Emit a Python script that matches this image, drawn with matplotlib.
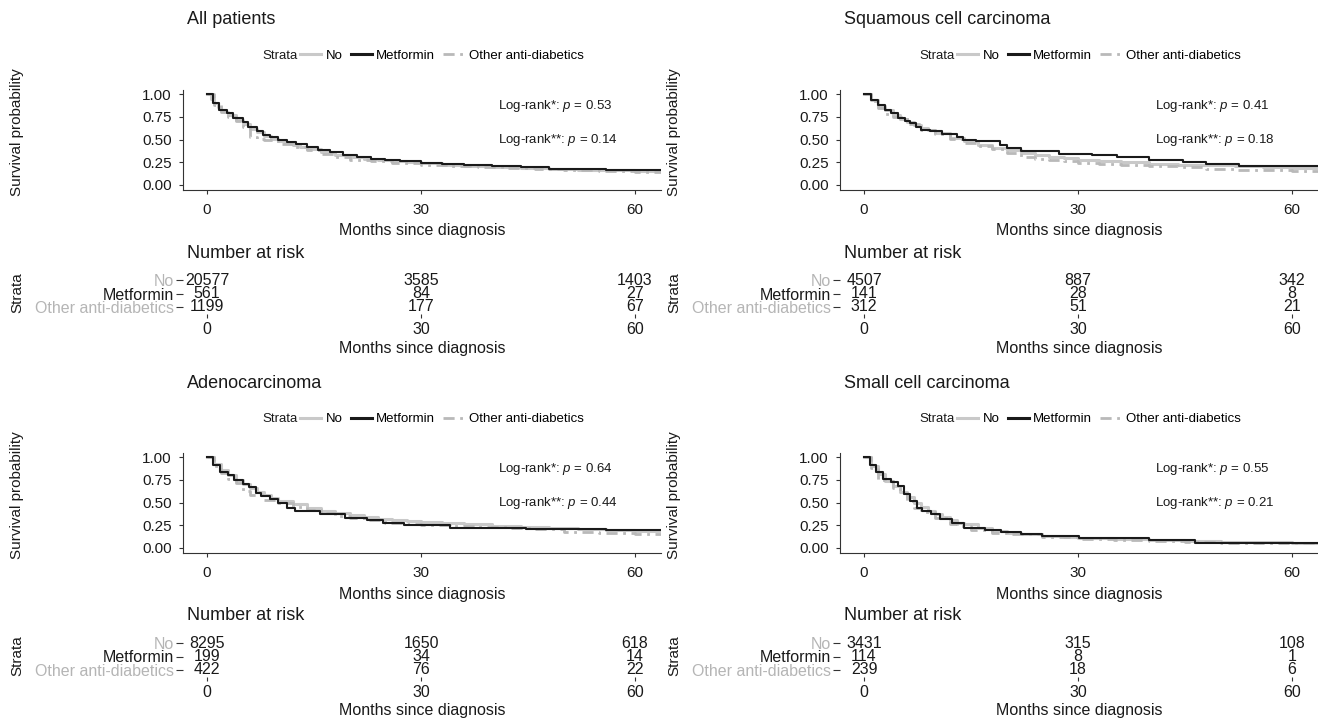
import matplotlib
matplotlib.use('Agg')
import matplotlib.pyplot as plt
from matplotlib.lines import Line2D

plt.rcParams['font.family'] = ['Liberation Sans', 'DejaVu Sans']
plt.rcParams['mathtext.fontset'] = 'custom'
plt.rcParams['mathtext.it'] = 'Liberation Sans:italic'
plt.rcParams['mathtext.rm'] = 'Liberation Sans'

# ---------------- data ----------------
strata = ['No', 'Metformin', 'Other anti-diabetics']
risk_times = [0, 30, 60]
titles = ['All patients', 'Squamous cell carcinoma', 'Adenocarcinoma', 'Small cell carcinoma']
p_star = ['0.53', '0.41', '0.64', '0.55']
p_star2 = ['0.14', '0.18', '0.44', '0.21']

# All patients
all_no_t = [0, 0.5, 1, 1.5, 2, 2.5, 3, 4, 5, 6, 7, 8, 9, 10, 11, 12, 13, 14, 16, 18, 20, 22, 24, 26, 28, 30, 33, 36, 40, 44, 48, 52, 56, 60, 64]
all_no_s = [1.0, 0.95, 0.90, 0.86, 0.83, 0.80, 0.77, 0.72, 0.67, 0.62, 0.58, 0.54, 0.51, 0.48, 0.46, 0.44, 0.42, 0.40, 0.36, 0.33, 0.31, 0.29, 0.27, 0.26, 0.25, 0.24, 0.225, 0.21, 0.20, 0.19, 0.18, 0.17, 0.165, 0.155, 0.15]
all_met_t = [0, 0.9, 1.7, 2.8, 3.6, 5.0, 5.8, 7.0, 7.8, 8.8, 10, 11.2, 12.5, 14, 15.5, 17.3, 19, 21, 23, 25, 27, 30, 33, 36, 40, 44, 48, 52, 56, 60, 64]
all_met_s = [1.0, 0.90, 0.82, 0.79, 0.74, 0.69, 0.64, 0.59, 0.55, 0.53, 0.50, 0.47, 0.45, 0.42, 0.39, 0.36, 0.33, 0.31, 0.29, 0.27, 0.26, 0.245, 0.235, 0.225, 0.21, 0.20, 0.18, 0.175, 0.165, 0.16, 0.16]
all_oth_t = [0, 1, 2, 3, 4, 5, 6, 7, 8, 10, 12, 14, 16, 18, 20, 23, 26, 30, 34, 38, 42, 46, 50, 55, 60, 64]
all_oth_s = [1.0, 0.88, 0.80, 0.75, 0.70, 0.64, 0.53, 0.51, 0.49, 0.45, 0.42, 0.38, 0.34, 0.31, 0.28, 0.26, 0.24, 0.22, 0.21, 0.20, 0.19, 0.175, 0.165, 0.15, 0.145, 0.14]
all_risk = [[20577, 3585, 1403], [561, 84, 27], [1199, 177, 67]]

# Squamous cell carcinoma
sq_no_t = [0, 1, 2, 3, 4, 5, 6, 7, 8, 9, 10, 12, 14, 16, 18, 20, 22, 24, 26, 28, 30, 33, 36, 40, 44, 48, 52, 56, 60, 64]
sq_no_s = [1.0, 0.93, 0.87, 0.82, 0.77, 0.73, 0.69, 0.66, 0.63, 0.60, 0.57, 0.52, 0.48, 0.44, 0.41, 0.38, 0.35, 0.33, 0.31, 0.30, 0.28, 0.265, 0.25, 0.235, 0.225, 0.215, 0.205, 0.20, 0.19, 0.185]
sq_met_t = [0, 1.0, 2.0, 2.9, 3.8, 4.8, 5.7, 6.4, 7.3, 8.0, 9.2, 11, 13, 13.9, 15.7, 19, 20, 22, 27.3, 32, 35.4, 40, 44.7, 48, 52.5, 64]
sq_met_s = [1.0, 0.93, 0.88, 0.82, 0.79, 0.74, 0.70, 0.68, 0.64, 0.60, 0.59, 0.56, 0.53, 0.50, 0.48, 0.44, 0.41, 0.37, 0.345, 0.33, 0.31, 0.28, 0.255, 0.235, 0.21, 0.21]
sq_oth_t = [0, 1, 2, 3, 4, 6, 8, 10, 12, 14, 16, 18, 20, 22, 24, 26, 28, 30, 33, 36, 40, 44, 48, 52, 56, 60, 64]
sq_oth_s = [1.0, 0.92, 0.85, 0.78, 0.75, 0.67, 0.61, 0.56, 0.51, 0.46, 0.43, 0.40, 0.35, 0.31, 0.29, 0.27, 0.26, 0.24, 0.23, 0.22, 0.21, 0.20, 0.18, 0.17, 0.16, 0.155, 0.15]
sq_risk = [[4507, 887, 342], [141, 28, 8], [312, 51, 21]]

# Adenocarcinoma
ad_no_t = [0, 1, 2, 3, 4, 5, 6, 7, 8, 9, 10, 12, 14, 16, 18, 20, 22, 24, 26, 28, 30, 33, 36, 40, 44, 48, 52, 56, 60, 64]
ad_no_s = [1.0, 0.92, 0.86, 0.80, 0.75, 0.70, 0.66, 0.62, 0.58, 0.55, 0.52, 0.48, 0.44, 0.41, 0.38, 0.36, 0.34, 0.32, 0.31, 0.30, 0.29, 0.27, 0.26, 0.24, 0.23, 0.22, 0.21, 0.20, 0.19, 0.185]
ad_met_t = [0, 0.9, 1.8, 2.9, 3.8, 5, 5.9, 6.8, 7.6, 8.8, 10, 11.2, 12.4, 15.9, 19.4, 22.4, 24.7, 27.6, 34, 44.7, 55.9, 64]
ad_met_s = [1.0, 0.91, 0.84, 0.80, 0.75, 0.70, 0.67, 0.61, 0.57, 0.54, 0.49, 0.44, 0.41, 0.37, 0.33, 0.31, 0.28, 0.25, 0.22, 0.21, 0.196, 0.196]
ad_oth_t = [0, 1, 2, 3, 4, 5, 6, 8, 10, 12, 14, 16, 18, 20, 22, 25, 28, 30, 34, 38, 42, 46, 50, 55, 60, 64]
ad_oth_s = [1.0, 0.90, 0.82, 0.76, 0.72, 0.63, 0.58, 0.53, 0.49, 0.45, 0.42, 0.38, 0.35, 0.33, 0.31, 0.28, 0.26, 0.25, 0.24, 0.23, 0.22, 0.21, 0.18, 0.16, 0.15, 0.15]
ad_risk = [[8295, 1650, 618], [199, 34, 14], [422, 76, 22]]

# Small cell carcinoma
sc_no_t = [0, 1, 2, 3, 4, 5, 6, 7, 8, 9, 10, 11, 12, 13, 14, 16, 18, 20, 22, 25, 28, 30, 35, 40, 45, 50, 55, 60, 64]
sc_no_s = [1.0, 0.90, 0.81, 0.74, 0.68, 0.62, 0.56, 0.50, 0.45, 0.41, 0.37, 0.34, 0.31, 0.28, 0.26, 0.22, 0.19, 0.17, 0.15, 0.13, 0.12, 0.11, 0.10, 0.09, 0.08, 0.07, 0.065, 0.06, 0.06]
sc_met_t = [0, 0.9, 1.7, 2.6, 3.8, 4.7, 5.6, 6.5, 7.4, 8.2, 9.4, 10.6, 12.3, 14, 16.9, 19.2, 22, 25, 30.2, 40, 46.4, 64]
sc_met_s = [1.0, 0.91, 0.84, 0.76, 0.73, 0.68, 0.59, 0.52, 0.44, 0.41, 0.37, 0.32, 0.28, 0.22, 0.20, 0.18, 0.15, 0.13, 0.11, 0.09, 0.055, 0.055]
sc_oth_t = [0, 1, 2, 3, 4, 5, 6, 7, 8, 10, 12, 13, 15, 18, 20, 25, 30, 35, 40, 45, 50, 55, 60, 64]
sc_oth_s = [1.0, 0.88, 0.75, 0.74, 0.66, 0.60, 0.52, 0.44, 0.40, 0.33, 0.26, 0.24, 0.20, 0.17, 0.15, 0.12, 0.10, 0.09, 0.08, 0.07, 0.06, 0.055, 0.05, 0.05]
sc_risk = [[3431, 315, 108], [114, 8, 1], [239, 18, 6]]

# ---------------- style ----------------
W, H = 1318, 720
col_no = '#c9c9c9'
col_met = '#1a1a1a'
col_oth = '#b9b9b9'
lab_cols = ['#b5b5b5', '#1a1a1a', '#b5b5b5']
axcol = '#333333'
PXM = (635 - 207) / 60.0
XLO = -(207 - 183) / PXM
XHI = XLO + 478 / PXM

fig = plt.figure(figsize=(W / 100, H / 100), dpi=100)


def add_px_axes(x0, top, w, h):
    return fig.add_axes([x0 / W, 1 - (top + h) / H, w / W, h / H])


panels = [
    (titles[0], (all_no_t, all_no_s), (all_met_t, all_met_s), (all_oth_t, all_oth_s), all_risk, p_star[0], p_star2[0], 0, 0),
    (titles[1], (sq_no_t, sq_no_s), (sq_met_t, sq_met_s), (sq_oth_t, sq_oth_s), sq_risk, p_star[1], p_star2[1], 657, 0),
    (titles[2], (ad_no_t, ad_no_s), (ad_met_t, ad_met_s), (ad_oth_t, ad_oth_s), ad_risk, p_star[2], p_star2[2], 0, 363),
    (titles[3], (sc_no_t, sc_no_s), (sc_met_t, sc_met_s), (sc_oth_t, sc_oth_s), sc_risk, p_star[3], p_star2[3], 657, 363),
]

oth_dash = (0, (4, 2, 1, 2))

for title, no, met, oth, risk, p1, p2, dx, dy in panels:
    # ---- survival plot ----
    ax = add_px_axes(183 + dx, 89.5 + dy, 478, 100)
    ax.step(no[0], no[1], where='post', color=col_no, lw=2.2)
    ax.step(oth[0], oth[1], where='post', color=col_oth, lw=2.0, linestyle=oth_dash)
    ax.step(met[0], met[1], where='post', color=col_met, lw=1.5)
    ax.set_xlim(XLO, XHI)
    ax.set_ylim(-0.05, 1.05)
    ax.set_xticks(risk_times)
    ax.set_yticks([0, 0.25, 0.5, 0.75, 1.0])
    ax.set_yticklabels(['0.00', '0.25', '0.50', '0.75', '1.00'])
    for s in ['top', 'right']:
        ax.spines[s].set_visible(False)
    for s in ['left', 'bottom']:
        ax.spines[s].set_color(axcol)
        ax.spines[s].set_linewidth(0.8)
    ax.tick_params(axis='both', length=3, width=0.8, color=axcol, labelsize=11, labelcolor='#1a1a1a')
    ax.tick_params(axis='y', pad=5)
    ax.tick_params(axis='x', pad=7)
    ax.patch.set_alpha(0)
    ax.text(40.8, 0.87, r'Log-rank*: $p$ = ' + p1, fontsize=9.5, va='center', ha='left', color='#1a1a1a')
    ax.text(40.8, 0.49, r'Log-rank**: $p$ = ' + p2, fontsize=9.5, va='center', ha='left', color='#1a1a1a')

    fig.text((187 + dx) / W, 1 - (20 + dy) / H, title, fontsize=13, ha='left', va='center', color='#1a1a1a')
    fig.text((17 + dx) / W, 1 - (132 + dy) / H, 'Survival probability', fontsize=11, rotation=90,
             ha='center', va='center', color='#1a1a1a')
    fig.text((422 + dx) / W, 1 - (231 + dy) / H, 'Months since diagnosis', fontsize=11.5,
             ha='center', va='center', color='#1a1a1a')

    # legend
    fig.text((298 + dx) / W, 1 - (56 + dy) / H, 'Strata', fontsize=9.5, ha='right', va='center', color='#1a1a1a')
    handles = [Line2D([], [], color=col_no, lw=2.2),
               Line2D([], [], color=col_met, lw=2.2),
               Line2D([], [], color=col_oth, lw=2.0, linestyle=oth_dash)]
    fig.legend(handles, strata, loc='center left', bbox_to_anchor=((300 + dx) / W, 1 - (56 + dy) / H),
               ncol=3, frameon=False, fontsize=9.5, handlelength=1.6, handletextpad=0.35,
               columnspacing=0.6, borderpad=0, borderaxespad=0)

    # ---- risk table ----
    rt = add_px_axes(183 + dx, 273 + dy, 478, 41)
    rt.set_xlim(XLO, XHI)
    rt.set_ylim(0.48, 3.52)
    rows = [3, 2, 1]
    for r, vals in zip(rows, risk):
        for t, v in zip(risk_times, vals):
            rt.text(t, r, str(v), ha='center', va='center', fontsize=11.5, color='#1a1a1a')
    rt.set_yticks(rows)
    rt.set_yticklabels(strata)
    for lbl, c in zip(rt.get_yticklabels(), lab_cols):
        lbl.set_color(c)
    rt.set_xticks(risk_times)
    for s in rt.spines.values():
        s.set_visible(False)
    rt.tick_params(axis='y', length=5, width=0.8, color=axcol, pad=1.5, labelsize=11.5)
    rt.tick_params(axis='x', length=3, width=0.8, color=axcol, pad=3, labelsize=11.5, labelcolor='#1a1a1a')
    rt.patch.set_alpha(0)

    fig.text((187 + dx) / W, 1 - (253 + dy) / H, 'Number at risk', fontsize=13, ha='left', va='center', color='#1a1a1a')
    fig.text((17 + dx) / W, 1 - (293 + dy) / H, 'Strata', fontsize=11, rotation=90,
             ha='center', va='center', color='#1a1a1a')
    fig.text((422 + dx) / W, 1 - (348 + dy) / H, 'Months since diagnosis', fontsize=11.5,
             ha='center', va='center', color='#1a1a1a')

fig.savefig('out.png', dpi=100, facecolor='white')
